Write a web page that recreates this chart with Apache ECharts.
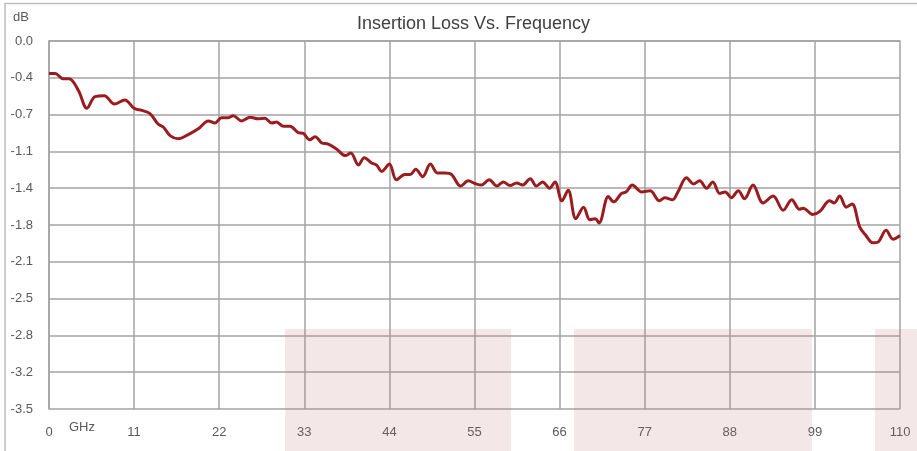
<!DOCTYPE html>
<html>
<head>
<meta charset="utf-8">
<script src="https://cdn.jsdelivr.net/npm/echarts@6/dist/echarts.min.js"></script>
<style>
  html, body { margin: 0; padding: 0; background: #fff; }
  #chart { width: 917px; height: 451px; }
</style>
</head>
<body>
<div id="chart"></div>
<script>
// frequency points (GHz)
const freq = [
  0, 0.8, 1.85, 2.6, 3.8, 4.9, 5.95, 7.15, 8.45, 9.8,
  11.0, 12.0, 13.05, 14.1, 14.8, 15.65, 16.7, 18.0, 19.3, 20.6,
  21.45, 22.3, 23.1, 23.8, 24.9, 26.0, 27.05, 27.9, 28.8, 29.4,
  30.3, 31.15, 32.2, 32.9, 33.7, 34.4, 35.25, 36.1,
  37.2, 38.3, 39.0, 40.0, 40.75, 41.7, 42.35, 43.0, 44.0, 44.9,
  46.0, 46.7, 47.4, 48.3, 49.3, 50.2, 51.2, 52.05, 53.2, 54.2,
  55.05, 55.9, 56.9, 57.9, 58.7, 59.6, 60.45, 61.2, 62.2, 63.0,
  63.8, 64.7, 65.4, 66.3, 67.1, 68.1, 69.1, 69.9, 70.6, 71.1,
  72.3, 73.0,
  74.0, 74.6, 75.4, 76.6, 77.7, 78.9, 79.6, 80.6, 81.3, 82.4,
  83.3, 84.1, 85.0, 85.8, 86.7, 87.4, 88.2, 89.1, 89.9, 91.0,
  92.3, 93.6, 94.9, 96.0, 97.0, 97.5, 98.7, 99.65, 100.9, 101.5,
  102.2, 103.05, 103.8, 104.8, 105.5, 106.5, 107.2, 108.2, 109.1, 110
];

// insertion loss (dB)
const loss = [
  -0.31, -0.31, -0.36, -0.36, -0.47, -0.64, -0.53, -0.52, -0.6, -0.56,
  -0.64, -0.66, -0.69, -0.79, -0.82, -0.9, -0.93, -0.89, -0.835, -0.76,
  -0.78, -0.73, -0.73, -0.71, -0.76, -0.725, -0.74, -0.735, -0.78, -0.77,
  -0.81, -0.81, -0.87, -0.88, -0.94, -0.91, -0.97, -0.98,
  -1.03, -1.09, -1.065, -1.18, -1.11, -1.16, -1.18, -1.24, -1.17, -1.32,
  -1.27, -1.27, -1.22, -1.29, -1.17, -1.255, -1.255, -1.27, -1.38, -1.33,
  -1.355, -1.37, -1.32, -1.38, -1.34, -1.375, -1.35, -1.37, -1.31, -1.38,
  -1.34, -1.4, -1.34, -1.52, -1.42, -1.69, -1.58, -1.7, -1.69, -1.73,
  -1.48, -1.53,
  -1.45, -1.435, -1.37, -1.435, -1.425, -1.52, -1.49, -1.51, -1.435, -1.3,
  -1.36, -1.33, -1.4, -1.34, -1.45, -1.435, -1.49, -1.425, -1.5, -1.37,
  -1.54, -1.475, -1.61, -1.51, -1.6, -1.59, -1.65, -1.62, -1.52, -1.54,
  -1.475, -1.58, -1.55, -1.77, -1.84, -1.92, -1.91, -1.8, -1.885, -1.85
];

// tick labels as printed on the original
const yTickLabels = ['0.0', '-0.4', '-0.7', '-1.1', '-1.4', '-1.8', '-2.1', '-2.5', '-2.8', '-3.2', '-3.5'];
const xTickLabels = ['0', '11', '22', '33', '44', '55', '66', '77', '88', '99', '110'];

const chart = echarts.init(document.getElementById('chart'), null, { renderer: 'canvas' });

const font = '"Liberation Sans", "DejaVu Sans", sans-serif';
const gridColor = '#a3a3a3';
const labelColor = '#595959';

chart.setOption({
  animation: false,
  textStyle: { fontFamily: font },
  title: {
    text: 'Insertion Loss Vs. Frequency',
    left: 352,
    top: 10,
    textStyle: { fontSize: 18, fontWeight: 'normal', color: '#404040', fontFamily: font }
  },
  grid: { left: 49, right: 17, top: 41, bottom: 42 },
  xAxis: {
    type: 'value',
    min: 0,
    max: 110,
    interval: 11,
    axisLine: { show: true, lineStyle: { color: gridColor, width: 1.5 } },
    axisTick: { show: false },
    splitLine: { show: true, lineStyle: { color: gridColor, width: 1.5 } },
    axisLabel: {
      color: labelColor,
      fontSize: 13,
      margin: 17,
      formatter: v => xTickLabels[Math.round(v / 11)]
    }
  },
  yAxis: {
    type: 'value',
    min: -3.5,
    max: 0,
    interval: 0.35,
    axisLine: { show: true, lineStyle: { color: gridColor, width: 1.5 } },
    axisTick: { show: false },
    splitLine: { show: true, lineStyle: { color: gridColor, width: 1.5 } },
    axisLabel: {
      color: labelColor,
      fontSize: 13,
      margin: 16,
      formatter: v => yTickLabels[Math.round(-v / 0.35)]
    }
  },
  graphic: [
    // outer chart frame
    {
      type: 'rect',
      z: -10,
      shape: { x: 5, y: 3.5, width: 1000, height: 1000 },
      style: { fill: 'none', stroke: '#bdbdbd', lineWidth: 1.5 }
    },
    { type: 'text', left: 13, top: 11, style: { text: 'dB', fill: labelColor, font: '13px ' + font } },
    { type: 'text', left: 69, top: 421, style: { text: 'GHz', fill: labelColor, font: '13px ' + font } },
    // pale pink blocks along the bottom
    { type: 'rect', z: 100, shape: { x: 285, y: 329, width: 226, height: 122 }, style: { fill: 'rgba(190, 110, 110, 0.17)' } },
    { type: 'rect', z: 100, shape: { x: 574, y: 329, width: 238, height: 122 }, style: { fill: 'rgba(190, 110, 110, 0.17)' } },
    { type: 'rect', z: 100, shape: { x: 875, y: 329, width: 42, height: 122 }, style: { fill: 'rgba(190, 110, 110, 0.17)' } }
  ],
  series: [{
    type: 'line',
    data: freq.map((f, i) => [f, loss[i]]),
    smooth: 0.35,
    showSymbol: false,
    lineStyle: { color: '#9b1c1f', width: 3 }
  }]
});
</script>
</body>
</html>
